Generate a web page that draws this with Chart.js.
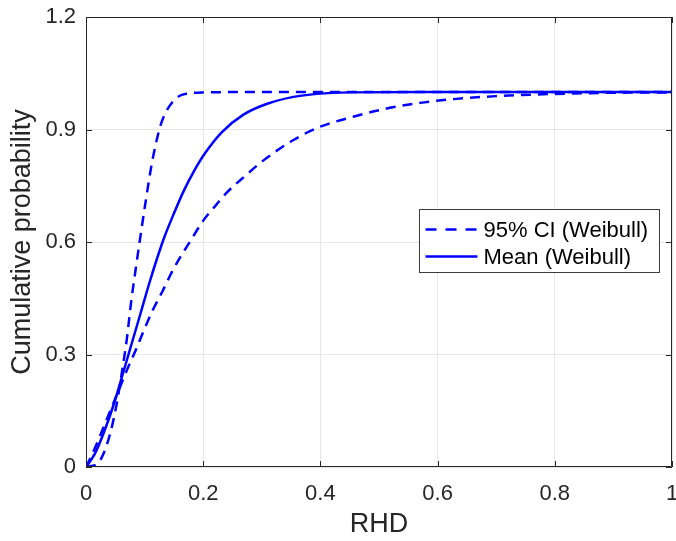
<!DOCTYPE html>
<html lang="en">
<head>
<meta charset="UTF-8">
<title>Cumulative probability of RHD</title>
<script src="https://cdn.jsdelivr.net/npm/chart.js"></script>
<style>
  html, body { margin: 0; padding: 0; background: #fff; }
  canvas { display: block; }
</style>
</head>
<body>
<canvas id="cdfChart" width="676" height="541"></canvas>
<script>
// curves
const meanX = [0, 0.015, 0.03, 0.048, 0.065, 0.08, 0.095, 0.108, 0.12, 0.133, 0.15, 0.167, 0.185, 0.201, 0.232, 0.268, 0.308, 0.354, 0.394, 0.45, 0.6, 1];
const meanY = [0, 0.035, 0.09, 0.17, 0.26, 0.34, 0.42, 0.49, 0.55, 0.61, 0.676, 0.737, 0.791, 0.832, 0.893, 0.939, 0.968, 0.987, 0.995, 0.999, 1, 1];

const upperX = [0, 0.02, 0.03, 0.041, 0.052, 0.062, 0.07, 0.077, 0.085, 0.091, 0.102, 0.113, 0.127, 0.137, 0.147, 0.16, 0.173, 0.2, 0.3, 1];
const upperY = [0, 0.01, 0.036, 0.088, 0.165, 0.26, 0.345, 0.44, 0.53, 0.595, 0.71, 0.815, 0.91, 0.948, 0.972, 0.99, 0.996, 0.999, 1, 1];

const lowerX = [0, 0.01, 0.02, 0.031, 0.042, 0.056, 0.07, 0.085, 0.099, 0.113, 0.13, 0.15, 0.179, 0.201, 0.22, 0.241, 0.27, 0.304, 0.354, 0.399, 0.456, 0.513, 0.57, 0.627, 0.7, 0.76, 0.83, 0.9, 1];
const lowerY = [0, 0.032, 0.068, 0.11, 0.152, 0.205, 0.259, 0.312, 0.365, 0.415, 0.467, 0.53, 0.605, 0.659, 0.695, 0.733, 0.774, 0.819, 0.872, 0.907, 0.934, 0.956, 0.971, 0.981, 0.989, 0.993, 0.996, 0.998, 0.999];

const xTicks = [0, 0.2, 0.4, 0.6, 0.8, 1];
const xTickLabels = ['0', '0.2', '0.4', '0.6', '0.8', '1'];
const yTicks = [0, 0.3, 0.6, 0.9, 1.2];
const yTickLabels = ['0', '0.3', '0.6', '0.9', '1.2'];
const legendLabels = ['95% CI (Weibull)', 'Mean (Weibull)'];

const AXIS = '#262626';
const BLUE = '#0000ff';
const DASH = [10, 7];

function pts(xs, ys) {
  return xs.map((x, i) => ({ x: x, y: ys[i] }));
}

// box round the axes, inward ticks, and the legend box
const framePlugin = {
  id: 'frame',
  afterDraw(chart) {
    const { ctx, chartArea: a, scales: { x, y } } = chart;
    ctx.save();
    ctx.strokeStyle = AXIS;
    ctx.lineWidth = 1;
    ctx.beginPath();
    ctx.rect(Math.round(a.left) + 0.5, Math.round(a.top) + 0.5,
             Math.round(a.right - a.left) - 1, Math.round(a.bottom - a.top) - 1);
    const tl = 6;
    xTicks.forEach(v => {
      const px = Math.round(x.getPixelForValue(v)) + 0.5;
      ctx.moveTo(px, a.bottom); ctx.lineTo(px, a.bottom - tl);
      ctx.moveTo(px, a.top); ctx.lineTo(px, a.top + tl);
    });
    yTicks.forEach(v => {
      const py = Math.round(y.getPixelForValue(v)) + 0.5;
      ctx.moveTo(a.left, py); ctx.lineTo(a.left + tl, py);
      ctx.moveTo(a.right, py); ctx.lineTo(a.right - tl, py);
    });
    ctx.stroke();

    // legend
    const lx = 419.5, ly = 209.5, lw = 240, lh = 63;
    ctx.fillStyle = '#fff';
    ctx.fillRect(lx, ly, lw, lh);
    ctx.strokeStyle = '#3c3c3c';
    ctx.strokeRect(lx, ly, lw, lh);
    const rows = [ly + 20, ly + 47];
    ctx.font = '22px "Liberation Sans", Arial, sans-serif';
    ctx.textBaseline = 'middle';
    rows.forEach((ry, i) => {
      ctx.strokeStyle = BLUE;
      ctx.lineWidth = 2.5;
      ctx.setLineDash(i === 0 ? [11, 9] : []);
      ctx.beginPath();
      ctx.moveTo(lx + 6, ry);
      ctx.lineTo(lx + 58, ry);
      ctx.stroke();
      ctx.setLineDash([]);
      ctx.fillStyle = '#000';
      ctx.fillText(legendLabels[i], lx + 64, ry + 1);
    });
    ctx.restore();
  }
};

Chart.defaults.font.family = '"Liberation Sans", Arial, sans-serif';
Chart.defaults.color = AXIS;

const ctx = document.getElementById('cdfChart').getContext('2d');
new Chart(ctx, {
  type: 'line',
  data: {
    datasets: [
      {
        label: legendLabels[0],
        data: pts(upperX, upperY),
        borderColor: BLUE,
        borderWidth: 2.5,
        borderDash: DASH,
        pointRadius: 0,
        cubicInterpolationMode: 'monotone',
        fill: false
      },
      {
        label: legendLabels[0],
        data: pts(lowerX, lowerY),
        borderColor: BLUE,
        borderWidth: 2.5,
        borderDash: DASH,
        pointRadius: 0,
        cubicInterpolationMode: 'monotone',
        fill: false
      },
      {
        label: legendLabels[1],
        data: pts(meanX, meanY),
        borderColor: BLUE,
        borderWidth: 2.5,
        pointRadius: 0,
        cubicInterpolationMode: 'monotone',
        fill: false
      }
    ]
  },
  options: {
    responsive: false,
    animation: false,
    layout: { padding: { top: 17, right: 4, left: 0, bottom: 0 } },
    plugins: {
      legend: { display: false },
      tooltip: { enabled: false }
    },
    scales: {
      x: {
        type: 'linear',
        min: 0,
        max: 1,
        afterBuildTicks: s => { s.ticks = xTicks.map(v => ({ value: v })); },
        afterFit: s => { s.height = 74; s.paddingLeft = 0; s.paddingRight = 0; },
        grid: { color: '#e6e6e6', drawTicks: false },
        border: { display: false },
        ticks: {
          padding: 14,
          maxRotation: 0,
          font: { size: 22 },
          color: AXIS,
          callback: (v, i) => xTickLabels[i]
        },
        title: {
          display: true,
          text: 'RHD',
          font: { size: 27 },
          color: AXIS,
          padding: { top: 0, bottom: 0 }
        }
      },
      y: {
        type: 'linear',
        min: 0,
        max: 1.2,
        afterBuildTicks: s => { s.ticks = yTicks.map(v => ({ value: v })); },
        afterFit: s => { s.width = 86; s.paddingTop = 0; s.paddingBottom = 0; },
        grid: { color: '#e6e6e6', drawTicks: false },
        border: { display: false },
        ticks: {
          padding: 10,
          font: { size: 22 },
          color: AXIS,
          callback: (v, i) => yTickLabels[i]
        },
        title: {
          display: true,
          text: 'Cumulative probability',
          font: { size: 27 },
          color: AXIS,
          padding: { top: 6, bottom: 0 }
        }
      }
    }
  },
  plugins: [framePlugin]
});
</script>
</body>
</html>
